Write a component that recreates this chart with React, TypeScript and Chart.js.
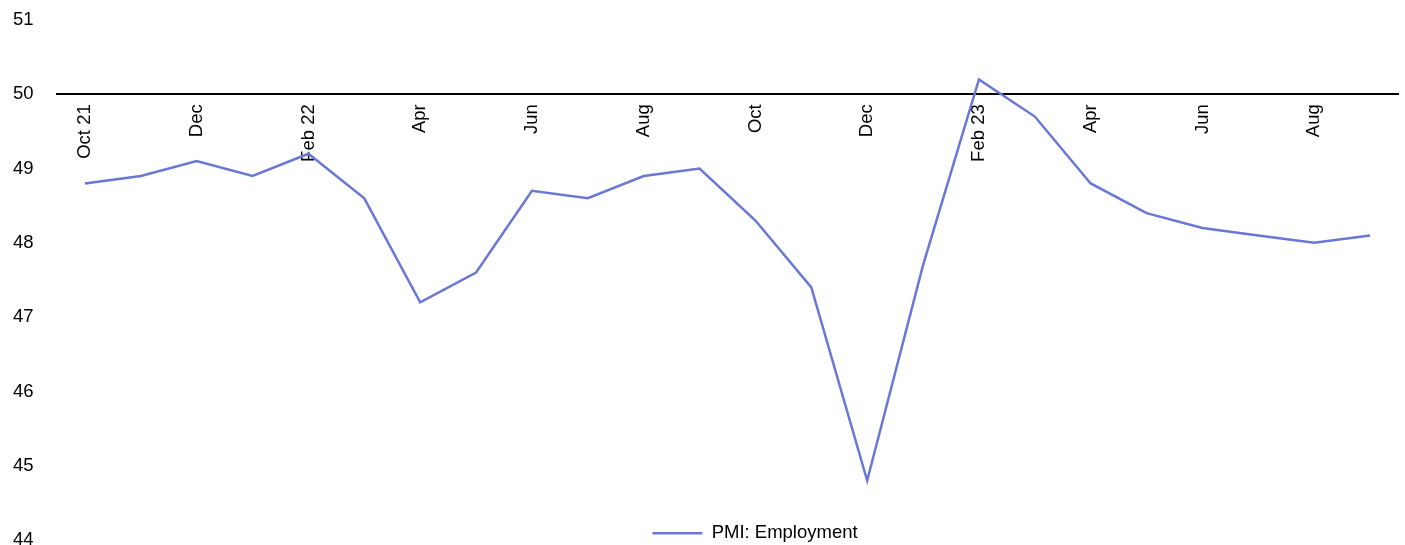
import React, { useEffect, useRef } from 'react';
import { Chart, registerables } from 'chart.js';

Chart.register(...registerables);

const categories = [
  'Oct 21', 'Nov 21', 'Dec 21', 'Jan 22', 'Feb 22', 'Mar 22', 'Apr 22', 'May 22',
  'Jun 22', 'Jul 22', 'Aug 22', 'Sep 22', 'Oct 22', 'Nov 22', 'Dec 22', 'Jan 23',
  'Feb 23', 'Mar 23', 'Apr 23', 'May 23', 'Jun 23', 'Jul 23', 'Aug 23', 'Sep 23',
];

const tickLabels = [
  'Oct 21', '', 'Dec', '', 'Feb 22', '', 'Apr', '', 'Jun', '', 'Aug', '',
  'Oct', '', 'Dec', '', 'Feb 23', '', 'Apr', '', 'Jun', '', 'Aug', '',
];

const employment = [
  48.8, 48.9, 49.1, 48.9, 49.2, 48.6, 47.2, 47.6, 48.7, 48.6, 48.9, 49.0,
  48.3, 47.4, 44.8, 47.7, 50.2, 49.7, 48.8, 48.4, 48.2, 48.1, 48.0, 48.1,
];

const seriesName = 'PMI: Employment';
const yMin = 44;
const yMax = 51;
const axisCrossValue = 50;

const LINE_COLOR = '#6A77D4';
const FONT_FAMILY = '"Liberation Sans", Arial, Helvetica, sans-serif';
const FONT_SIZE = 18.5;

const legendPlacer = {
  id: 'legendPlacer',
  afterLayout(chart: any) {
    const lg = chart.legend;
    if (!lg) return;
    const cx = 755;
    lg.left = cx - 300;
    lg.right = cx + 300;
    lg.width = 600;
    lg.top = 524;
    lg.bottom = 545;
    lg.height = 21;
  },
};

export default function App() {
  const canvasRef = useRef<HTMLCanvasElement | null>(null);

  useEffect(() => {
    document.body.style.margin = '0';
    const canvas = canvasRef.current;
    if (!canvas) return;
    const chart = new Chart(canvas, {
      type: 'line',
      data: {
        labels: categories,
        datasets: [
          {
            label: seriesName,
            data: employment,
            borderColor: LINE_COLOR,
            backgroundColor: LINE_COLOR,
            borderWidth: 2.5,
            pointRadius: 0,
            pointHoverRadius: 0,
            tension: 0,
            fill: false,
          },
        ],
      },
      options: {
        responsive: false,
        animation: false,
        devicePixelRatio: 1,
        font: { family: FONT_FAMILY, size: FONT_SIZE },
        layout: { padding: { top: 20, left: 13, right: 7, bottom: 4 } },
        plugins: {
          tooltip: { enabled: false },
          title: { display: false },
          legend: {
            display: true,
            position: 'bottom',
            align: 'center',
            maxHeight: 1,
            labels: {
              usePointStyle: true,
              pointStyle: 'line',
              pointStyleWidth: 50,
              boxHeight: FONT_SIZE,
              padding: 0,
              color: '#000',
              font: { family: FONT_FAMILY, size: FONT_SIZE },
            },
          },
        },
        scales: {
          x: {
            type: 'category',
            offset: true,
            position: { y: axisCrossValue },
            grid: { display: false, drawTicks: false },
            border: { display: true, color: '#000', width: 2 },
            ticks: {
              autoSkip: false,
              minRotation: 90,
              maxRotation: 90,
              padding: 10,
              color: '#000',
              font: { family: FONT_FAMILY, size: FONT_SIZE },
              callback: (_v: any, i: number) => tickLabels[i],
            },
            afterFit: (s: any) => {
              s.height = 0;
              s.paddingLeft = 0;
              s.paddingRight = 0;
            },
          },
          y: {
            type: 'linear',
            min: yMin,
            max: yMax,
            grid: { display: false, drawTicks: false },
            border: { display: false },
            ticks: {
              stepSize: 1,
              padding: 0,
              crossAlign: 'far',
              color: '#000',
              font: { family: FONT_FAMILY, size: FONT_SIZE },
            },
            afterFit: (s: any) => {
              s.width = 44;
              s.paddingTop = 0;
              s.paddingBottom = 0;
            },
          },
        },
      } as any,
      plugins: [legendPlacer as any],
    });
    return () => chart.destroy();
  }, []);

  return (
    <canvas
      ref={canvasRef}
      width={1405}
      height={545}
      style={{ display: 'block', width: '1405px', height: '545px' }}
    />
  );
}
